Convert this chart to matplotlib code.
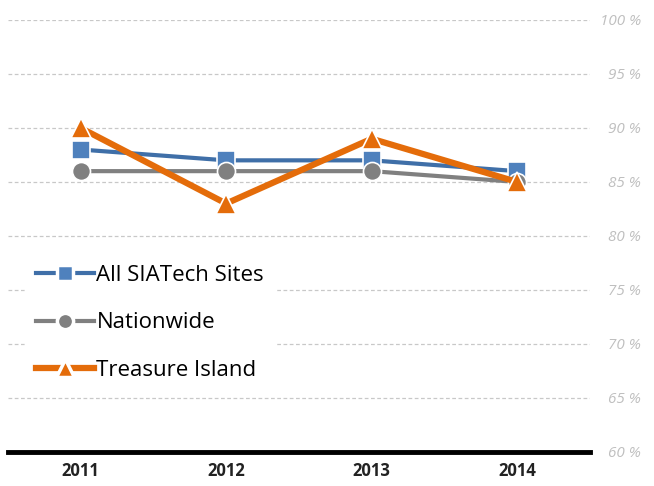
import numpy as np
import matplotlib
matplotlib.use("Agg")
import matplotlib.pyplot as plt

# Data
years = ["2011", "2012", "2013", "2014"]
siatech = [88, 87, 87, 86]
nationwide = [86, 86, 86, 85]
treasure = [90, 83, 89, 85]
yticks = [60, 65, 70, 75, 80, 85, 90, 95, 100]
ytick_labels = [f"{v} %" for v in yticks]

fig = plt.figure(figsize=(6.54, 4.86), dpi=100)
ax = fig.add_axes([0.012, 0.07, 0.89, 0.889])

x = np.arange(len(years))
ax.plot(x, siatech, color="#3F6FA8", lw=3, marker="s", ms=13,
        mfc="#4F81BD", mec="white", mew=1.2, label="All SIATech Sites", zorder=3)
ax.plot(x, nationwide, color="#808080", lw=3, marker="o", ms=13,
        mfc="#808080", mec="white", mew=1.2, label="Nationwide", zorder=4)
ax.plot(x, treasure, color="#E46C0A", lw=4.5, marker="^", ms=14,
        mfc="#E46C0A", mec="white", mew=1.2, label="Treasure Island", zorder=5)

ax.set_xlim(-0.5, len(years) - 0.5)
ax.set_ylim(60, 100)
ax.set_xticks(x)
ax.set_xticklabels(years, fontsize=12, fontweight="bold", color="#222222",
                   family="Open Sans")
ax.set_yticks(yticks)
ax.set_yticklabels(ytick_labels, fontsize=11, fontstyle="italic",
                   color="#BFBFBF", family="Open Sans")
ax.yaxis.tick_right()
ax.tick_params(axis="both", length=0)
ax.tick_params(axis="y", pad=37)
ax.tick_params(axis="x", pad=7)
for lab in ax.get_yticklabels():
    lab.set_ha("right")

ax.grid(axis="y", color="#C8C8C8", ls=(0, (3, 2)), lw=0.9)
ax.set_axisbelow(True)
for s in ["top", "left", "right"]:
    ax.spines[s].set_visible(False)
ax.spines["bottom"].set_linewidth(3.5)
ax.spines["bottom"].set_color("black")

leg = ax.legend(loc="upper left", bbox_to_anchor=(0.03, 0.459), frameon=True,
                framealpha=1, edgecolor="white", borderaxespad=0,
                prop={"family": "Open Sans", "size": 16},
                handlelength=2.6, handletextpad=0.1, labelspacing=1.2,
                borderpad=0.5, markerscale=0.9)
leg.set_zorder(6)
for h in leg.legend_handles:
    h.set_markeredgewidth(2.5)

fig.savefig("out.png", dpi=100)
